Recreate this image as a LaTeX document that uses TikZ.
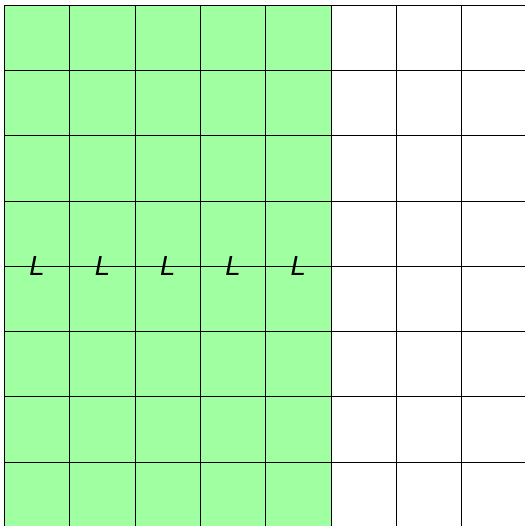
\documentclass[tikz,border=0pt]{standalone}
\usepackage{fontspec}
\setmainfont{Liberation Sans}
\usepackage{tikz}
\definecolor{CellGreen}{RGB}{160,255,160}
\tikzset{
  cellfill/.style={fill=CellGreen,draw=none},
  gridline/.style={draw=black,line width=0.35pt},
  lbl/.style={font=\fontsize{12}{14}\selectfont\itshape,inner sep=0pt},
}
\begin{document}
\begin{tikzpicture}[x=1cm,y=1cm]
  \useasboundingbox (-0.069,0.021) rectangle (7.971,8.077);
  \clip (-0.069,0.021) rectangle (7.971,8.077);
  % green left block
  \fill[cellfill] (0,0) rectangle (5,8);
  % grid
  \foreach \i in {0,...,8} {
    \draw[gridline] (\i,0) -- (\i,8);
    \draw[gridline] (0,\i) -- (8,\i);
  }
  % labels
  \foreach \c in {0,...,4} {
    \node[lbl] (L\c) at (\c+0.5,4) {L};
  }
\end{tikzpicture}
\end{document}
